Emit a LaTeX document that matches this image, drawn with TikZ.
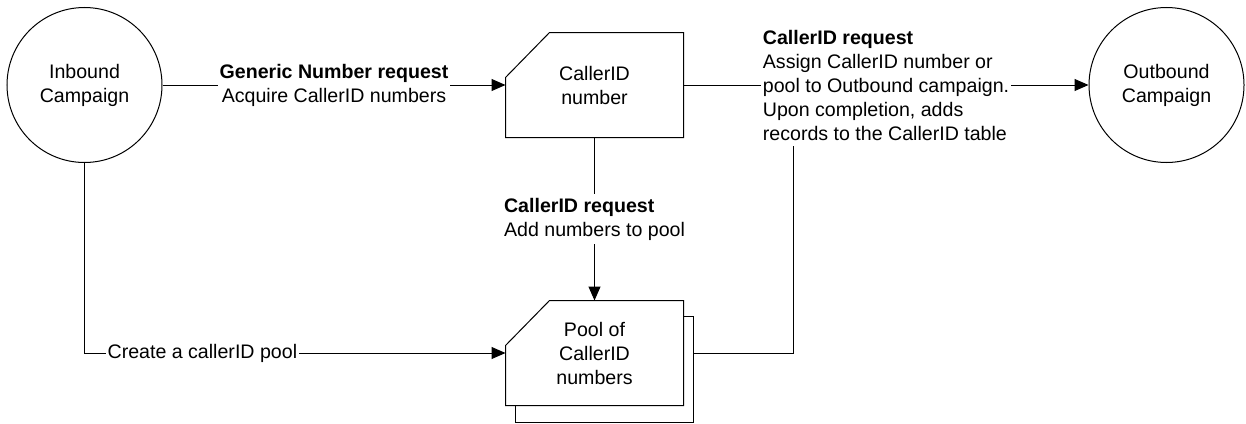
\documentclass[tikz,border=0pt]{standalone}
\usepackage{fontspec}
\setmainfont{Liberation Sans}
\usetikzlibrary{arrows.meta}
\newcommand{\lblfont}{\fontsize{9.8pt}{12pt}\selectfont}
%outline of a card with the top left corner cut off
\newcommand{\cardline}[1]{\draw ([xshift=22pt]#1.north west) -- (#1.north east) -- (#1.south east) -- (#1.south west) -- ([yshift=-22.5pt]#1.north west) -- cycle;}

\begin{document}
\begin{tikzpicture}[x=0.5pt,y=-0.5pt,line width=0.5pt,font=\lblfont,
  camp/.style={circle,draw,minimum size=77.5pt,inner sep=0pt,align=center},
  card/.style={minimum width=88.5pt,minimum height=52pt,inner sep=0pt,align=center},
  flow/.style={-{Triangle[length=7pt,width=6pt]}},
  lbl/.style={fill=white,inner sep=1pt}]
\useasboundingbox (0,0) rectangle (1246,423);
%draw campaigns
\node[camp] (inbound) at (84.5,85) {Inbound\\Campaign};
\node[camp] (outbound) at (1166.5,85) {Outbound\\Campaign};
%draw callerID cards
\node[card] (number) at (594.5,85) {CallerID\\number};
\node[card] (pool) at (594.5,353) {Pool of\\CallerID\\numbers};
\cardline{number}
\cardline{pool}
%second sheet behind the pool
\draw ([yshift=-8pt]pool.north east) -- ++(10,0) |- ([xshift=5pt,yshift=-8.5pt]pool.south west) -- ([xshift=5pt]pool.south west);
% draw arrows
\draw[flow] (inbound) -- node[lbl,align=center] (acquire) {\textbf{Generic Number request}\\Acquire CallerID numbers} (number);
\draw[flow] (number) -- node[lbl,align=left] (assign) {\textbf{CallerID request}\\Assign CallerID number or\\pool to Outbound campaign.\\Upon completion, adds\\records to the CallerID table} (outbound);
\draw[flow] (number) -- node[lbl,align=left,inner ysep=2pt] (add) {\textbf{CallerID request}\\Add numbers to pool} (pool);
\draw[flow] (inbound) |- node[lbl,pos=0.64] (create) {Create a callerID pool} (pool);
\coordinate (tap) at (793,146);
\draw ([xshift=5pt]pool.east) -| (tap);
\end{tikzpicture}
\end{document}
